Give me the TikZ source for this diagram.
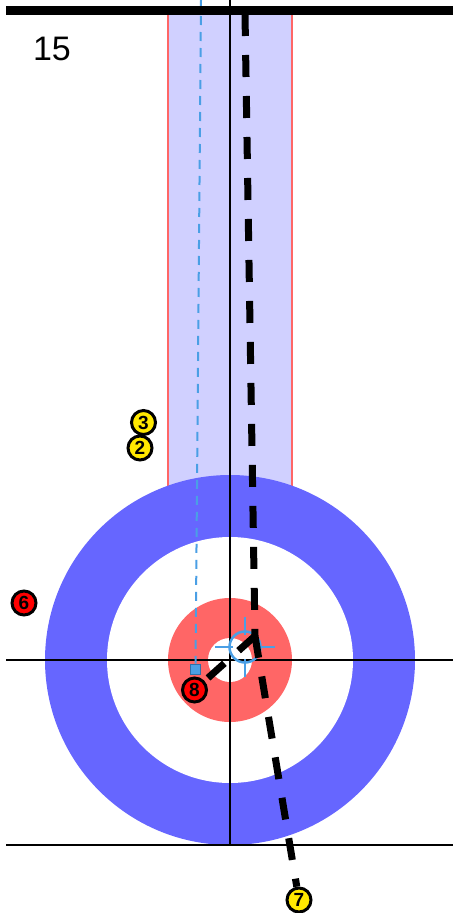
\documentclass[tikz,border=0pt]{standalone}
\usepackage{fontspec}
\setmainfont{Liberation Sans}
\definecolor{houseblue}{HTML}{6666FF}
\definecolor{housered}{HTML}{FF6666}
\definecolor{lanefill}{HTML}{D0D0FF}
\definecolor{aimblue}{HTML}{4A9FE5}
\definecolor{aimedge}{HTML}{2F6FA8}
\definecolor{stoneyellow}{HTML}{FFE800}
\definecolor{stonered}{HTML}{FF0000}

\begin{document}
\begin{tikzpicture}[x=1pt, y=-1pt,
    stone/.style={circle, draw=black, line width=3pt, minimum size=24pt, inner sep=0pt, font=\fontsize{19}{19}\selectfont\bfseries},
    sheetline/.style={line width=2pt},
    throwpath/.style={line width=7pt, dash pattern=on 22pt off 19pt},
    aimpath/.style={aimblue, line width=2pt, dash pattern=on 9pt off 7pt},
    crosshair/.style={aimblue, line width=2.5pt}]
    \useasboundingbox (0,0) rectangle (453,913);

    % Draw lane and house
    \draw[fill=lanefill, draw=housered, line width=2pt] (168,14) rectangle (292,520);
    \fill[houseblue] (230,660) circle[radius=185pt];
    \fill[white] (230,660) circle[radius=123pt];
    \fill[housered] (230,660) circle[radius=62pt];
    \fill[white] (230,660) circle[radius=22pt];

    % Draw sheet lines
    \draw[sheetline] (6,660) -- (453,660);
    \draw[sheetline] (6,845) -- (453,845);
    \draw[sheetline] (230,0) -- (230,845);

    % Draw aim line
    \coordinate (aimtop) at (201,0);
    \node[draw=aimedge, fill=aimblue, line width=0.8pt, minimum size=10pt, inner sep=0pt] (aimmark) at (195.5,669) {};
    \draw[aimpath] (aimtop) -- (aimmark);

    % Draw hog line
    \draw[line width=9pt] (6,10.5) -- (453,10.5);

    % Draw target
    \node[circle, draw=aimblue, line width=2.5pt, minimum size=31pt, inner sep=0pt] (target) at (245,647) {};
    \foreach \a in {0,90,180,270}
        \draw[crosshair] (target.center) ++(\a:12pt) -- ++(\a:18pt);

    % Draw stones
    \node[stone, fill=stoneyellow] (stone3) at (143.5,422.5) {3};
    \node[stone, fill=stoneyellow] (stone2) at (140,448) {2};
    \node[stone, fill=stonered] (stone6) at (24,603) {6};
    \node[stone, fill=stonered] (stone8) at (194.5,690) {8};
    \node[stone, fill=stoneyellow] (stone7) at (299,900) {7};

    % Draw throw
    \coordinate (release) at (245,14);
    \coordinate (hit) at (255,636);
    \draw[throwpath] (release) -- (hit);
    \draw[throwpath] (hit) -- (stone8);
    \draw[throwpath] (hit) -- (stone7);

    % Labels
    \node[font=\fontsize{34}{34}\selectfont] (endlabel) at (52,48.5) {15};
\end{tikzpicture}
\end{document}
